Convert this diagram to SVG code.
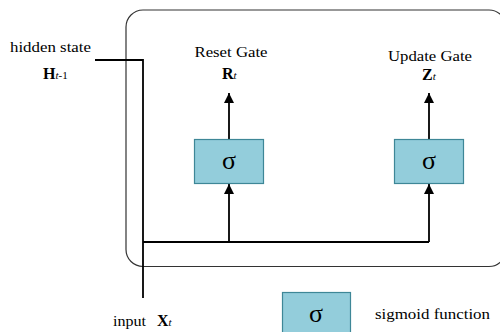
<svg xmlns="http://www.w3.org/2000/svg" width="500" height="332" viewBox="0 0 500 332">
<style>
text{font-family:"Liberation Serif","Times New Roman",serif;fill:#000}
.lbl{font-size:14px}
.sig{font-size:26px}
.box{fill:#93CDDB;stroke:#3E8797;stroke-width:1.2}
.ln{fill:none;stroke:#000;stroke-width:1.8}
.b{font-weight:bold;font-size:16px}
.i{font-style:italic;font-size:11px}
.s{font-size:11px}
</style>
<defs>
<marker id="ah" markerWidth="10" markerHeight="10" refX="10" refY="5" orient="auto" markerUnits="userSpaceOnUse">
<path d="M0,0 L10,5 L0,10 Z" fill="#000"/>
</marker>
</defs>
<rect x="126" y="10" width="380" height="256.5" rx="17" ry="17" fill="none" stroke="#333" stroke-width="1.2"/>
<g id="connectors">
<path class="ln" d="M95,60 H143 V298"/>
<path class="ln" d="M143,242 H429"/>
<path class="ln" d="M229,242 V184" marker-end="url(#ah)"/>
<path class="ln" d="M429,242 V184" marker-end="url(#ah)"/>
<path class="ln" d="M229,139 V93" marker-end="url(#ah)"/>
<path class="ln" d="M429,139 V93" marker-end="url(#ah)"/>
</g>
<g id="hidden-state">
<text class="lbl" x="10" y="52" textLength="81" lengthAdjust="spacingAndGlyphs">hidden state</text>
<text x="43" y="79" class="lbl"><tspan class="b">H</tspan><tspan class="i">t</tspan><tspan class="s">-1</tspan></text>
</g>
<g id="reset-gate">
<text class="lbl" x="231" y="57" text-anchor="middle" textLength="73" lengthAdjust="spacingAndGlyphs">Reset Gate</text>
<text x="222" y="79" class="lbl"><tspan class="b">R</tspan><tspan class="i">t</tspan></text>
</g>
<g id="update-gate">
<text class="lbl" x="430" y="61" text-anchor="middle" textLength="84" lengthAdjust="spacingAndGlyphs">Update Gate</text>
<text x="422" y="80" class="lbl"><tspan class="b">Z</tspan><tspan class="i">t</tspan></text>
</g>
<g id="sigma-reset">
<rect class="box" x="194.5" y="139.5" width="69" height="44"/>
<text class="sig" x="229" y="169" text-anchor="middle">σ</text>
</g>
<g id="sigma-update">
<rect class="box" x="394.5" y="139.5" width="69" height="44"/>
<text class="sig" x="429" y="169" text-anchor="middle">σ</text>
</g>
<g id="input">
<text class="lbl" x="113" y="326" textLength="33" lengthAdjust="spacingAndGlyphs">input</text>
<text x="157" y="326" class="lbl"><tspan class="b">X</tspan><tspan class="i">t</tspan></text>
</g>
<g id="legend">
<rect class="box" x="282.5" y="292.5" width="68" height="44"/>
<text class="sig" x="316" y="322" text-anchor="middle">σ</text>
<text class="lbl" x="375" y="319" textLength="115" lengthAdjust="spacingAndGlyphs">sigmoid function</text>
</g>
</svg>
